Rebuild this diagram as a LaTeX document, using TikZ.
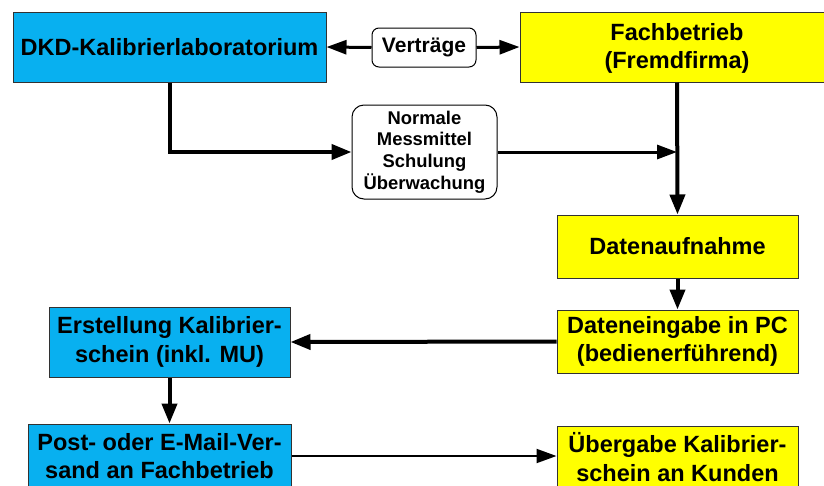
\documentclass[tikz,border=0pt]{standalone}
\usepackage{fontspec}
\setmainfont{Liberation Sans}
\usetikzlibrary{arrows.meta}
\definecolor{dkdblue}{RGB}{8,176,240}
\definecolor{fyellow}{RGB}{255,255,0}
\definecolor{bordergray}{RGB}{50,50,50}
\tikzset{
  bluebox/.style={draw=bordergray,line width=1pt,fill=dkdblue,align=center,inner sep=0pt,font=\fontsize{23.5}{28.5}\selectfont\bfseries},
  yelbox/.style={draw=bordergray,line width=1pt,fill=fyellow,align=center,inner sep=0pt,font=\fontsize{23.5}{28.5}\selectfont\bfseries},
  roundbox/.style={draw=black,line width=1pt,fill=white,rounded corners=7pt,align=center,inner sep=0pt},
  conn/.style={line width=4pt,-{Triangle[length=20pt,width=15pt]}},
  connmid/.style={line width=3pt,-{Triangle[length=20pt,width=14pt]}},
  connthin/.style={line width=2pt,-{Triangle[length=20pt,width=14pt]}},
}
\begin{document}
\begin{tikzpicture}[x=1pt,y=-1pt]
\useasboundingbox (0,0) rectangle (824,485);
\clip (0,0) rectangle (824,485);
\node[bluebox,minimum width=313pt,minimum height=70pt] (dkd) at (169.5,47) {DKD-Kalibrierlaboratorium};
\node[yelbox,minimum width=314pt,minimum height=70pt] (fach) at (677,47) {};
\node[yelbox,draw=none,fill=none] (fachtxt) at (677,48.5) {Fachbetrieb\\(Fremdfirma)};
\node[roundbox,minimum width=104pt,minimum height=39pt,font=\fontsize{21}{24}\selectfont\bfseries] (vert) at (424,47.5) {Verträge};
\node[roundbox,rounded corners=12pt,minimum width=145pt,minimum height=94pt,font=\fontsize{18.4}{21.7}\selectfont\bfseries] (norm) at (424.5,152) {Normale\\Messmittel\\Schulung\\Überwachung};
\node[yelbox,minimum width=241pt,minimum height=63pt] (daten) at (677.5,246.5) {Datenaufnahme};
\node[yelbox,minimum width=241pt,minimum height=63pt] (eing) at (677.5,341.5) {Dateneingabe in PC\\(bedienerführend)};
\node[bluebox,minimum width=241pt,minimum height=70pt] (erst) at (169.5,342) {Erstellung Kalibrier-\\schein (inkl. MU)};
\node[bluebox,minimum width=263pt,minimum height=64pt] (post) at (159.5,456) {Post- oder E-Mail-Ver-\\sand an Fachbetrieb};
\node[yelbox,minimum width=241pt,minimum height=62pt] (ueber) at (677.5,457) {Übergabe Kalibrier-\\schein an Kunden};
\coordinate (j2) at (677,152);
\draw[connmid] (vert.west) -- (dkd.east);
\draw[connmid] (vert.east) -- (fach.west);
\draw[conn] (dkd.south) |- (norm.west);
\draw[connmid] (norm.east) -- (j2);
\draw[conn] (fach.south) -- (daten.north);
\draw[conn] (daten.south) -- (eing.north);
\draw[conn] (eing.west) -- (erst.east);
\draw[conn] (erst.south) -- (erst.south |- post.north);
\draw[connthin] (post.east) -- (post.east -| ueber.west);
\end{tikzpicture}
\end{document}
